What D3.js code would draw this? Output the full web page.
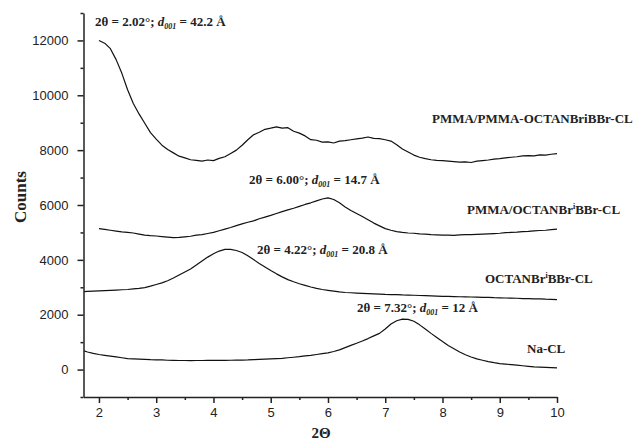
<!DOCTYPE html>
<html><head><meta charset="utf-8">
<script src="https://cdn.jsdelivr.net/npm/d3@7"></script>
<style>body{margin:0;background:#fff}</style>
</head><body><svg id="c" width="639" height="444"></svg>
<script>
// ---- data ----
const twoTheta = [1.74,1.8,1.9,2.0,2.1,2.2,2.3,2.4,2.5,2.6,2.7,2.8,2.9,3.0,3.1,3.2,3.3,3.4,3.5,3.6,3.7,3.8,3.9,4.0,4.1,4.2,4.3,4.4,4.5,4.6,4.7,4.8,4.9,5.0,5.1,5.2,5.3,5.4,5.5,5.6,5.7,5.8,5.9,6.0,6.1,6.2,6.3,6.4,6.5,6.6,6.7,6.8,6.9,7.0,7.1,7.2,7.3,7.4,7.5,7.6,7.7,7.8,7.9,8.0,8.1,8.2,8.3,8.4,8.5,8.6,8.7,8.8,8.9,9.0,9.1,9.2,9.3,9.4,9.5,9.6,9.7,9.8,9.9,10.0];

const pmmaPmmaCounts = [null,null,null,12000,11900,11700,11300,10800,10200,9700,9320,8980,8640,8400,8180,8020,7900,7780,7720,7650,7630,7600,7640,7620,7700,7760,7880,8000,8180,8380,8560,8650,8760,8800,8850,8800,8820,8690,8620,8520,8380,8360,8290,8300,8260,8330,8350,8380,8410,8440,8480,8430,8420,8380,8330,8200,8040,7930,7820,7740,7690,7650,7630,7620,7600,7580,7560,7570,7550,7600,7620,7640,7670,7690,7720,7740,7760,7790,7800,7790,7830,7820,7850,7870];

const pmmaOctanCounts = [null,null,null,5140,5110,5080,5050,5020,5000,4980,4940,4900,4880,4870,4850,4830,4810,4820,4840,4860,4900,4920,4960,5000,5060,5120,5180,5250,5310,5370,5420,5500,5560,5620,5690,5760,5820,5880,5950,6020,6080,6150,6220,6260,6200,6080,5930,5800,5690,5580,5460,5340,5240,5140,5080,5030,5000,4980,4970,4950,4940,4920,4910,4900,4900,4890,4910,4920,4920,4930,4940,4950,4960,4970,4990,5000,5010,5030,5040,5060,5070,5080,5100,5120];

const octanCounts = [2840,2850,2860,2870,2880,2890,2900,2910,2920,2940,2960,2990,3040,3100,3160,3240,3340,3450,3560,3670,3810,3960,4100,4220,4320,4380,4380,4340,4270,4150,4010,3870,3740,3610,3490,3380,3280,3200,3130,3070,3010,2960,2920,2890,2860,2830,2810,2800,2790,2780,2770,2760,2750,2740,2735,2730,2720,2715,2710,2700,2695,2690,2680,2670,2665,2660,2655,2650,2645,2640,2635,2630,2620,2615,2610,2605,2600,2590,2585,2580,2575,2565,2560,2550];

const naClCounts = [680,640,590,550,520,490,460,430,400,390,380,370,360,355,350,340,335,330,330,325,330,330,335,335,340,335,340,345,345,350,360,370,380,390,400,410,430,450,470,500,520,550,580,610,660,720,800,880,960,1040,1130,1230,1320,1480,1660,1780,1840,1830,1760,1630,1480,1320,1170,1020,880,760,640,540,460,390,340,290,250,220,200,180,160,140,120,100,90,80,70,60];

const xTicks = [2,3,4,5,6,7,8,9,10];
const xMinorTicks = [2.5,3.5,4.5,5.5,6.5,7.5,8.5,9.5];
const yTicks = [0,2000,4000,6000,8000,10000,12000];
const yMinorTicks = [-1000,1000,3000,5000,7000,9000,11000,13000];

const seriesList = [pmmaPmmaCounts, pmmaOctanCounts, octanCounts, naClCounts];

// ---- layout ----
const svg = d3.select("#c");
const x = d3.scaleLinear().domain([1.73, 10]).range([83.5, 557]);
const y = d3.scaleLinear().domain([-1000, 13000]).range([397, 13]);

const serif = "'Liberation Serif','Times New Roman',serif";
const sans = "'Liberation Sans',Arial,sans-serif";

// curves
const line = d3.line()
  .defined(d => d[1] !== null)
  .x(d => x(d[0]))
  .y(d => y(d[1]));

seriesList.forEach(vals => {
  svg.append("path")
    .datum(twoTheta.map((t, i) => [t, vals[i]]))
    .attr("fill", "none")
    .attr("stroke", "#111")
    .attr("stroke-width", 1.2)
    .attr("stroke-linejoin", "round")
    .attr("d", line);
});

// axes
function styleAxis(g) {
  g.selectAll("path.domain").attr("stroke", "#222").attr("stroke-width", 1.5);
  g.selectAll("line").attr("stroke", "#222").attr("stroke-width", 1.5);
  g.selectAll("text").attr("font-family", sans).attr("font-size", 13).attr("fill", "#222");
}

const gx = svg.append("g").attr("transform", "translate(0,397)")
  .call(d3.axisBottom(x).tickValues(xTicks).tickSize(6).tickSizeOuter(0).tickPadding(5).tickFormat(d3.format("d")));
styleAxis(gx);
const gxm = svg.append("g").attr("transform", "translate(0,397)")
  .call(d3.axisBottom(x).tickValues(xMinorTicks).tickSize(3).tickSizeOuter(0).tickFormat(""));
gxm.select("path.domain").remove();
styleAxis(gxm);

const gy = svg.append("g").attr("transform", "translate(83.5,0)")
  .call(d3.axisLeft(y).tickValues(yTicks).tickSize(6).tickSizeOuter(0).tickPadding(9).tickFormat(d3.format("d")));
styleAxis(gy);
const gym = svg.append("g").attr("transform", "translate(83.5,0)")
  .call(d3.axisLeft(y).tickValues(yMinorTicks).tickSize(3).tickSizeOuter(0).tickFormat(""));
gym.select("path.domain").remove();
styleAxis(gym);

// axis titles
svg.append("text").attr("x", 321).attr("y", 438).attr("text-anchor", "middle")
  .attr("font-family", serif).attr("font-weight", "bold").attr("font-size", 15).attr("fill", "#222")
  .text("2Θ");
svg.append("text").attr("transform", "translate(26,197) rotate(-90)").attr("text-anchor", "middle")
  .attr("font-family", serif).attr("font-weight", "bold").attr("font-size", 17).attr("fill", "#222")
  .text("Counts");

// peak annotations
const peakLabels = [
  {angle: "2.02", d: "42.2", px: 95, py: 26},
  {angle: "6.00", d: "14.7", px: 249, py: 184},
  {angle: "4.22", d: "20.8", px: 257, py: 254},
  {angle: "7.32", d: "12", px: 357, py: 312}
];
peakLabels.forEach(p => {
  const t = svg.append("text").attr("x", p.px).attr("y", p.py)
    .attr("font-family", serif).attr("font-weight", "bold").attr("font-size", 13).attr("fill", "#222");
  t.append("tspan").text(`2θ = ${p.angle}°; `);
  t.append("tspan").attr("font-style", "italic").text("d");
  t.append("tspan").attr("font-style", "italic").attr("font-size", 8).attr("dy", 3).text("001");
  t.append("tspan").attr("dy", -3).text(` = ${p.d} Å`);
});

// series labels
const seriesLabels = [
  {parts: ["PMMA/PMMA-OCTANBriBBr-CL"], px: 432, py: 123},
  {parts: ["PMMA/OCTANBr", "i", "BBr-CL"], px: 467, py: 214},
  {parts: ["OCTANBr", "i", "BBr-CL"], px: 485, py: 283},
  {parts: ["Na-CL"], px: 527, py: 353}
];
seriesLabels.forEach(s => {
  const t = svg.append("text").attr("x", s.px).attr("y", s.py)
    .attr("font-family", serif).attr("font-weight", "bold").attr("font-size", 13).attr("fill", "#222");
  if (s.parts.length === 1) {
    t.text(s.parts[0]);
  } else {
    t.append("tspan").text(s.parts[0]);
    t.append("tspan").attr("font-size", 8).attr("dy", -5).text(s.parts[1]);
    t.append("tspan").attr("dy", 5).text(s.parts[2]);
  }
});
</script>
</body></html>
